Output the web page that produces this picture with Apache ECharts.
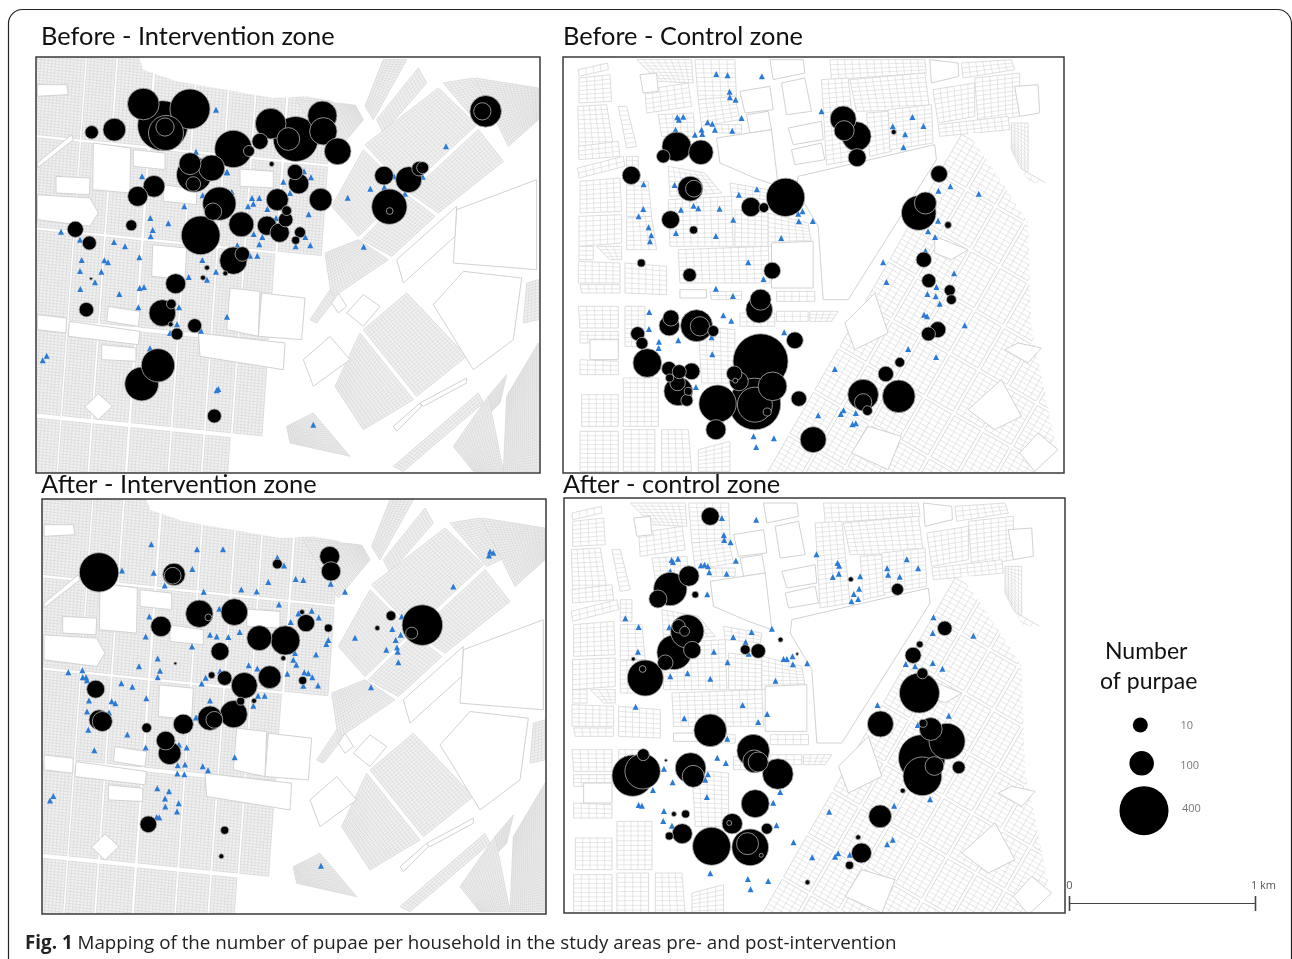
<!DOCTYPE html>
<html><head><meta charset="utf-8">
<style>html,body{margin:0;padding:0;background:#fff;overflow:hidden}#c{width:1292px;height:959px;filter:blur(.45px)}</style>
<script src="https://cdn.jsdelivr.net/npm/echarts@6/dist/echarts.min.js"></script>
</head><body><div id="c"></div>
<script>
// Pupae per household: [map x, map y, pupae]  (map units, y downward)
const beforeInterventionPupae=[[340,163,167],[398,228,417],[480,178,267],[408,250,204],[405,232,21],[253,240,60],[185,248,7],[610,298,232],[657,304,4],[690,275,13],[722,222,157],[797,268,337],[775,268,60],[877,198,143],[880,245,125],[923,305,119],[725,343,1],[480,342,50],[492,375,204],[545,355,113],[490,403,9],[795,367,11],[806,402,35],[372,410,47],[323,440,32],[568,462,185],[549,486,17],[742,450,50],[872,450,60],[770,483,3],[767,510,9],[711,528,27],[749,549,27],[810,548,4],[797,572,2],[634,524,104],[512,557,250],[136,539,13],[178,580,8],[304,527,4],[610,633,125],[637,613,9],[531,654,1],[519,684,1],[586,671,1],[183,687,.6],[437,702,32],[397,790,119],[424,763,3],[422,824,1],[169,780,9],[494,828,8],[441,853,5],[384,947,185],[335,1003,190],[553,1099,8],[1367,185,167],[1357,185,17],[1062,378,24],[1136,390,113],[1167,357,9],[1178,354,5],[1078,471,208],[1079,484,1.5]];
const beforeControlPupae=[[365,291,143],[438,308,90],[325,320,7],[229,377,21],[406,417,104],[417,417,15],[347,510,20],[416,541,2],[259,640,2],[404,676,7],[588,472,27],[627,474,3],[692,443,245],[865,208,113],[905,260,143],[868,243,32],[907,324,20],[1017,247,1],[1153,373,15],[1092,490,200],[1112,460,50],[1180,526,1.5],[1107,630,11],[1122,693,8],[1185,722,4],[1190,750,3],[652,663,15],[617,750,40],[613,780,119],[348,805,13],[343,828,35],[425,828,171],[435,830,27],[475,844,4],[248,852,8],[261,881,5],[277,940,137],[720,872,15],[617,935,504],[410,965,15],[342,957,9],[373,966,8],[344,985,2],[368,1000,11],[370,1025,137],[400,1025,2],[396,1052,5],[538,972,11],[552,995,24],[541,993,1],[653,1010,137],[600,1065,204],[600,1063,445],[637,1087,2],[488,1062,232],[483,1140,32],[732,1047,11],[775,1170,113],[925,1035,157],[925,1058,17],[938,1083,3],[993,973,11],[1035,938,3],[1032,1040,178],[1149,840,13],[1121,853,8]];
const afterInterventionPupae=[[207,308,258],[432,314,55],[428,318,15],[742,283,3],[899,260,32],[903,305,27],[393,470,35],[508,432,125],[535,443,1.5],[613,427,119],[816,427,1],[828,460,17],[895,475,2],[688,505,104],[766,512,143],[570,545,20],[436,581,.6],[760,565,1],[545,616,1.5],[584,625,9],[643,647,113],[719,622,60],[818,632,2],[197,658,20],[632,694,2],[672,693,1],[611,733,125],[540,745,90],[553,750,15],[207,750,32],[217,755,32],[350,774,3],[460,763,32],[407,812,24],[419,850,60],[355,1063,15],[584,1081,2],[574,1159,1],[1177,466,275],[1145,490,5],[1083,438,3],[1042,475,1]];
const afterControlPupae=[[465,140,20],[345,358,185],[401,319,35],[308,388,20],[420,375,1.5],[396,485,185],[370,470,7],[388,485,3],[357,548,200],[411,541,17],[330,579,11],[270,625,216],[262,598,1.5],[234,568,.8],[570,540,3],[609,544,9],[676,510,1],[726,553,.6],[887,329,1],[1027,359,5],[1169,476,9],[1094,524,1.5],[1074,557,13],[1093,670,267],[1102,611,4],[976,763,113],[1176,815,216],[1127,778,60],[1104,761,2],[1100,865,363],[1102,920,250],[1138,889,24],[1211,893,6],[465,782,178],[594,843,178],[597,875,60],[609,877,32],[668,913,157],[406,895,157],[414,920,50],[264,855,5],[232,918,285],[262,905,208],[332,872,.6],[1043,963,1],[600,1002,131],[975,1040,60],[391,1033,2],[356,1033,1],[381,1092,32],[342,1099,2],[469,1130,240],[531,1062,35],[522,1060,1],[585,1133,224],[577,1122,50],[618,1157,.8],[635,1077,4],[919,1150,32],[909,1103,1],[883,1187,2],[757,1238,1]];
// Households with no pupae: [map x, map y]
const beforeInterventionZero=[[558,180],[498,306],[336,380],[592,368],[590,368],[760,396],[822,365],[843,383],[780,430],[666,445],[688,445],[670,462],[654,470],[712,478],[836,494],[738,505],[463,470],[361,505],[415,521],[368,541],[362,560],[93,546],[150,570],[252,577],[285,590],[328,623],[155,631],[223,632],[234,638],[150,664],[214,666],[195,698],[151,718],[329,715],[342,712],[268,733],[325,773],[447,773],[441,824],[420,850],[513,843],[591,801],[517,631],[558,666],[476,682],[531,690],[622,587],[671,553],[697,562],[688,584],[826,562],[841,587],[797,590],[660,618],[682,618],[953,444],[1021,417],[1248,290],[1001,591],[1092,380],[1063,413],[1125,432],[1178,381],[360,896],[50,918],[38,932],[565,1018],[560,1022],[850,1125],[518,437],[605,427]];
const beforeControlZero=[[484,73],[518,77],[621,80],[524,126],[525,143],[542,150],[367,203],[385,201],[372,210],[362,240],[420,255],[440,240],[442,253],[458,218],[472,222],[480,240],[532,243],[560,205],[800,185],[1073,202],[1106,229],[1014,230],[1051,254],[1046,293],[266,404],[359,406],[606,419],[552,435],[1151,423],[1187,410],[1272,432],[265,478],[251,500],[378,480],[416,468],[430,476],[494,477],[535,510],[743,485],[730,492],[732,515],[774,514],[1150,513],[1120,545],[1141,562],[281,533],[289,557],[285,575],[363,550],[483,559],[679,565],[1112,603],[985,638],[580,638],[995,697],[626,688],[483,717],[534,739],[1198,671],[1145,712],[1118,733],[1143,740],[1155,762],[1108,795],[1117,800],[1230,827],[283,787],[282,838],[505,797],[529,813],[688,848],[312,876],[311,895],[370,872],[470,863],[472,914],[1060,898],[1144,922],[840,958],[423,1012],[866,1082],[858,1093],[903,1090],[790,1097],[893,1124],[903,1121],[596,1160],[657,1166],[604,1192]];
const afterInterventionZero=[[364,224],[501,239],[579,239],[742,263],[762,287],[276,302],[371,309],[487,298],[404,347],[715,337],[797,328],[820,331],[902,342],[945,366],[521,366],[634,359],[680,365],[747,404],[568,417],[805,431],[845,423],[866,443],[782,457],[358,440],[347,500],[540,495],[560,500],[595,502],[629,487],[486,530],[895,511],[889,523],[975,504],[1270,350],[1380,245],[1390,249],[1377,257],[1115,440],[1087,478],[1112,495],[1097,511],[1069,540],[1101,533],[1103,546],[1105,577],[795,550],[858,554],[790,570],[799,585],[383,566],[327,589],[390,603],[383,622],[115,607],[157,601],[158,622],[168,622],[171,631],[274,640],[307,651],[515,641],[527,624],[570,604],[656,586],[682,596],[772,612],[823,607],[835,610],[847,622],[820,648],[864,647],[1023,652],[349,685],[540,692],[245,694],[256,700],[177,692],[684,678],[704,678],[670,708],[171,725],[237,728],[498,743],[175,780],[292,794],[347,833],[193,841],[447,825],[470,833],[614,862],[443,886],[465,884],[518,889],[534,901],[442,911],[463,913],[382,955],[417,964],[405,986],[446,1000],[406,1010],[441,1025],[380,1041],[388,1043],[70,978],[60,992],[873,1187]];
const afterControlZero=[[500,145],[603,150],[506,196],[507,211],[526,218],[349,271],[368,267],[353,277],[345,305],[437,287],[448,285],[458,290],[462,308],[514,312],[542,273],[784,254],[847,280],[852,288],[1055,269],[1089,296],[996,296],[999,315],[1034,321],[851,312],[833,322],[915,320],[912,357],[896,373],[909,388],[889,395],[456,374],[210,446],[250,472],[1135,443],[1133,490],[1255,498],[342,473],[534,502],[589,487],[650,477],[571,517],[248,546],[476,546],[580,552],[712,560],[685,568],[695,568],[713,584],[756,581],[517,578],[397,611],[345,620],[465,627],[661,633],[1052,583],[1080,590],[1133,580],[1162,597],[241,711],[562,706],[636,733],[387,746],[609,757],[967,706],[1181,738],[1088,766],[516,807],[486,864],[512,880],[326,897],[458,914],[450,930],[352,938],[293,961],[675,967],[455,982],[1125,989],[654,999],[250,1006],[260,1008],[1017,1008],[326,1024],[324,1054],[350,1068],[664,1067],[822,1026],[715,1118],[1013,1110],[996,1124],[771,1163],[849,1151],[840,1161],[884,1155],[465,1211],[578,1228],[639,1234],[586,1259]];
// Base map, west: street grid bands (map units) plus hand-read diagonal blocks and open lots
const westColumns=[[-40,125],[132,218],[226,330],[340,458],[466,558],[566,640],[648,735],[745,875]];
const westRows=[[-100,295],[305,570],[580,838],[852,1125],[1140,1330]];
const westOmit=[[7,2],[7,3],[7,4],[6,4]];
const westDiagonal=[[1060,30,1130,30,1030,210,1005,170],[1040,210,1165,55,1190,100,1060,250],[1005,285,1225,115,1340,225,1130,420],[1240,100,1330,85,1425,195,1350,230],[1335,85,1525,115,1525,210,1435,290],[1140,430,1345,240,1420,335,1225,490],[905,470,1000,300,1125,425,985,560],[995,570,1130,435,1215,500,1085,620],[885,610,985,570,1075,630,905,745],[840,810,900,720,915,750,860,820],[1000,840,1130,730,1310,920,1160,1040],[915,1010,990,850,1150,1050,1000,1140],[1490,700,1525,690,1525,810,1480,820],[1375,1040,1430,975,1410,1060,1380,1090],[1430,1040,1525,880,1525,1265,1420,1265],[1090,1250,1345,1030,1360,1060,1120,1265],[1270,1190,1375,1040,1420,1265,1330,1265],[770,1130,850,1090,960,1220,780,1180],[800,150,975,165,1000,210,905,325]];
const westLots=[[325,15,1062,15,1000,170,830,140,730,145,440,95,340,60],[22,105,110,105,115,135,22,140],[22,340,125,255,130,270,22,355],[22,435,180,445,205,490,180,530,22,510],[205,1032,247,1070,205,1110,165,1072],[190,280,302,295,300,430,188,420],[310,300,405,310,405,360,310,350],[78,380,180,385,178,435,78,430],[630,358,730,365,730,415,630,410],[400,405,500,420,500,465,400,455],[368,585,470,595,465,690,365,680],[600,715,690,725,685,860,590,840],[695,730,825,745,815,870,685,860],[235,770,330,785,325,830,230,815],[215,885,318,895,318,935,215,930],[505,850,765,880,760,960,510,920],[118,815,330,845,325,885,115,860],[22,795,110,805,108,850,22,840],[1280,480,1520,390,1520,660,1270,640],[1210,765,1300,665,1475,685,1450,870,1330,960],[950,790,1000,735,1050,770,1000,830],[1100,630,1280,470,1275,560,1120,700],[1090,1130,1170,1060,1175,1070,1100,1145],[1170,1060,1310,985,1310,1000,1180,1070],[820,930,900,860,960,930,850,1010],[905,760,925,730,950,770,925,790]];
// Base map, east: hand-read western blocks, diagonal street bands, outer mask and open lots
const eastBlocks=[[70,60,158,40,160,60,72,80],[72,85,165,75,170,155,72,160],[68,170,155,165,175,290,72,290],[190,170,215,170,245,290,215,295],[70,290,190,275,195,320,72,330],[68,355,205,320,210,350,72,385],[75,395,195,385,200,485,75,490],[72,500,200,495,200,580,72,590],[72,590,115,590,115,630,72,630],[125,590,200,590,200,630,165,630],[70,635,195,640,195,700,70,700],[75,705,195,705,195,730,80,730],[215,320,250,320,250,385,215,385],[215,395,280,395,290,500,215,500],[215,505,290,500,305,600,215,600],[210,640,335,650,335,735,210,730],[245,30,410,30,415,100,310,95],[270,120,400,100,410,170,275,190],[310,195,415,190,420,260,320,260],[420,30,540,30,545,150,430,150],[430,150,540,140,555,210,440,230],[480,225,560,225,560,250,485,250],[340,450,530,440,535,590,345,590],[540,480,640,490,640,590,540,590],[640,490,760,520,770,580,640,590],[370,600,640,590,645,700,375,700],[465,725,560,725,560,750,470,750],[665,725,780,725,780,755,665,755],[525,400,640,420,635,450,530,440],[340,350,450,370,500,430,345,440],[825,30,1110,30,1115,70,830,90],[800,90,880,85,905,330,815,345],[885,90,1110,70,1125,180,905,185],[935,190,1000,185,1010,305,945,320],[1000,180,1130,165,1135,280,1005,300],[1135,120,1260,100,1260,200,1150,220],[1260,85,1395,70,1395,200,1270,220],[1150,225,1360,200,1365,240,1155,260],[1220,40,1370,30,1380,60,1225,85],[1370,220,1420,220,1420,400,1370,300],[70,770,190,770,190,835,75,835],[75,845,190,845,190,880,75,880],[210,770,270,770,270,890,210,890],[75,930,190,935,190,975,75,975],[205,985,310,985,310,1130,205,1130],[80,1035,190,1035,190,1130,80,1130],[75,1145,190,1145,190,1265,75,1265],[205,1140,300,1140,300,1265,205,1265],[320,1140,400,1140,410,1265,320,1265],[430,830,540,840,540,1000,440,1000],[555,790,660,790,660,830,555,830],[665,785,760,785,760,815,665,815],[765,785,850,785,830,815,765,815],[430,1200,525,1175,525,1265,430,1265]];
const eastDiagonalOrigin=[620,1275];
const eastAcross=[[12,102],[112,202],[212,302],[312,402],[412,502],[512,602],[612,702]];
const eastAlong=[[0,140],[150,290],[300,440],[450,590],[600,740],[750,890],[900,1040],[1050,1180]];
const eastLots=[[1240,250,1365,250,1365,305,1425,400,1620,400,1620,1210,1505,1195,1430,830,1420,520,1330,380],[730,380,1140,285,1145,330,880,750,805,750,790,530,725,420],[255,75,305,70,310,125,265,130],[555,125,645,110,655,180,570,190],[575,195,640,185,650,240,585,250],[485,265,650,240,670,410,600,385,495,340],[645,30,745,30,750,70,655,90],[680,100,750,85,770,185,695,195],[700,235,800,215,805,270,715,285],[710,300,800,280,810,330,720,345],[1125,30,1210,40,1212,80,1130,100],[1380,110,1450,105,1455,190,1395,200],[650,580,775,575,775,715,650,715],[870,820,960,730,1000,850,900,900],[940,1130,1040,1160,1000,1260,890,1210],[1240,1080,1340,990,1400,1100,1320,1140],[1395,1210,1450,1150,1510,1200,1440,1265],[105,870,190,870,190,930,105,930],[375,720,455,720,455,745,375,745],[1140,560,1240,600,1190,630,1140,610],[1390,880,1460,895,1420,940,1350,900]];
// Legend and scale bar
const legendValues=[10,100,400];
const legendPoints=[[241,315],[245,430],[252,572]];
const legendLabelPoints=[[380,318],[389,437],[394,566]];
const scaleValues=[[0,0],[1,0]];
const scaleLabels=['0','1 km'];
const titles=['Before - Intervention zone','Before - Control zone','After - Intervention zone','After - control zone'];

// Legend keys: 10 -> 15 px, 100 -> 25 px, 400 -> 49 px
function bubble(v){return v>=100?2.45*Math.sqrt(v):15+10*Math.log10(v/10);}

// expand the street bands into parcel blocks
const westBlocks=[];
westRows.forEach((r,j)=>westColumns.forEach((c,i)=>{
 if(westOmit.some(o=>o[0]===i&&o[1]===j))return;
 const pt=(u,v)=>{const y=v+0.1*(u-400);return [u-0.07*(y-600),y];};
 westBlocks.push([...pt(c[0],r[0]),...pt(c[1],r[0]),...pt(c[1],r[1]),...pt(c[0],r[1])]);
}));
westBlocks.push(...westDiagonal);
const eastAll=eastBlocks.slice();
eastAcross.forEach(s=>eastAlong.forEach(t=>{
 const pt=(a,b)=>[eastDiagonalOrigin[0]+0.5*b+0.87*a,eastDiagonalOrigin[1]-0.87*b+0.5*a];
 eastAll.push([...pt(s[0],t[0]),...pt(s[1],t[0]),...pt(s[1],t[1]),...pt(s[0],t[1])]);
}));

const panels=[
 {title:0,g:[36,57,504,416],x:[18,1530],y:[22,1270],p:beforeInterventionPupae,z:beforeInterventionZero,b:westBlocks,l:westLots,d:[0,0],kind:'w'},
 {title:1,g:[563,57,501,416],x:[24,1528],y:[22,1270],p:beforeControlPupae,z:beforeControlZero,b:eastAll,l:eastLots,d:[0,0],kind:'e'},
 {title:2,g:[42,499,504,415],x:[36,1548],y:[88,1332],p:afterInterventionPupae,z:afterInterventionZero,b:westBlocks,l:westLots,d:[20,60],kind:'w'},
 {title:3,g:[564,498,501,415],x:[26,1530],y:[85,1330],p:afterControlPupae,z:afterControlZero,b:eastAll,l:eastLots,d:[-20,70],kind:'e'}
];
const titlePos=[[41,22],[563,22],[41,470],[563,470]];
const FONT='Lato';
function lerp(a,b,t){return [a[0]+(b[0]-a[0])*t,a[1]+(b[1]-a[1])*t];}
function mapSeries(P,i,list,isLot){
 const cu=P.kind==='w'?11:22, cv=P.kind==='w'?9:14;
 const col=P.kind==='w'?'#d2d2d2':'#cfcfcf';
 return {type:'custom',xAxisIndex:i,yAxisIndex:i,clip:true,silent:true,z:1,
  data:list.map(b=>[b[0],b[1]]),encode:{x:0,y:1},
  renderItem(params,api){
   const b=list[params.dataIndex],c=[];
   for(let k=0;k<b.length;k+=2)c.push(api.coord([b[k]+P.d[0],b[k+1]+P.d[1]]));
   const masked=isLot&&params.dataIndex===0;
   const children=[{type:'polygon',shape:{points:c},style:{fill:isLot?'#fff':(P.kind==='w'?'#f0f0f0':'#fff'),stroke:masked?null:(isLot?'#d2d2d2':col),lineWidth:isLot?1:.7}}];
   if(!isLot){
    const L=(p,q)=>Math.hypot(b[p*2]-b[q*2],b[p*2+1]-b[q*2+1]);
    const nu=Math.max(1,Math.round(Math.max(L(0,1),L(3,2))/cu)),nv=Math.max(1,Math.round(Math.max(L(0,3),L(1,2))/cv));
    const seg=(a,e)=>({type:'line',shape:{x1:a[0],y1:a[1],x2:e[0],y2:e[1]},style:{stroke:col,lineWidth:.5}});
    for(let k=1;k<nu;k++)children.push(seg(lerp(c[0],c[1],k/nu),lerp(c[3],c[2],k/nu)));
    for(let k=1;k<nv;k++)children.push(seg(lerp(c[0],c[3],k/nv),lerp(c[1],c[2],k/nv)));
   }
   return {type:'group',children};
  }};
}
function frameSeries(P,i){
 return {type:'custom',xAxisIndex:i,yAxisIndex:i,clip:false,silent:true,z:6,
  data:[[P.x[0],P.y[0],P.x[1],P.y[1]]],encode:{x:[0,2],y:[1,3]},
  renderItem(params,api){
   const a=api.coord([api.value(0),api.value(1)]),b=api.coord([api.value(2),api.value(3)]);
   return {type:'rect',shape:{x:a[0],y:a[1],width:b[0]-a[0],height:b[1]-a[1]},style:{fill:null,stroke:'#3a3a3a',lineWidth:1.5}};
  }};
}
const grid=[],xAxis=[],yAxis=[],series=[],title=[];
panels.forEach((P,i)=>{
 grid.push({left:P.g[0],top:P.g[1],width:P.g[2],height:P.g[3],show:false});
 xAxis.push({gridIndex:i,type:'value',min:P.x[0],max:P.x[1],show:false});
 yAxis.push({gridIndex:i,type:'value',min:P.y[0],max:P.y[1],inverse:true,show:false});
 series.push(mapSeries(P,i,P.b,false),mapSeries(P,i,P.l,true));
 series.push({type:'scatter',name:'none',xAxisIndex:i,yAxisIndex:i,data:P.z,symbol:'triangle',symbolSize:6,z:3,silent:true,itemStyle:{color:'#2a7ad6',opacity:1}});
 series.push({type:'scatter',name:'pupae',xAxisIndex:i,yAxisIndex:i,data:P.p.slice().sort((a,b)=>b[2]-a[2]),symbol:'circle',symbolSize:v=>bubble(v[2]),z:4,silent:true,itemStyle:{color:'#000',opacity:1,borderColor:'#b0b0b0',borderWidth:.8}});
 series.push(frameSeries(P,i));
 title.push({text:titles[P.title],left:titlePos[i][0],top:titlePos[i][1],padding:0,textStyle:{fontFamily:FONT,fontSize:25.4,fontWeight:'normal',color:'#111',lineHeight:30}});
});
grid.push({left:1060,top:620,width:232,height:339,show:false});
xAxis.push({gridIndex:4,type:'value',min:0,max:696,show:false});
yAxis.push({gridIndex:4,type:'value',min:0,max:1017,inverse:true,show:false});
series.push({type:'scatter',xAxisIndex:4,yAxisIndex:4,silent:true,z:4,symbol:'circle',symbolSize:(v,p)=>bubble(legendValues[p.dataIndex]),data:legendPoints,itemStyle:{color:'#000',opacity:1}});
series.push({type:'scatter',xAxisIndex:4,yAxisIndex:4,silent:true,z:4,symbolSize:0,data:legendLabelPoints,label:{show:true,position:'inside',formatter:p=>String(legendValues[p.dataIndex]),fontFamily:'Open Sans',fontSize:11,color:'#555'}});
grid.push({left:1069.5,top:903,width:186,height:1,show:false});
xAxis.push({gridIndex:5,type:'value',min:0,max:1,show:false});
yAxis.push({gridIndex:5,type:'value',min:-1,max:1,show:false});
series.push({type:'line',xAxisIndex:5,yAxisIndex:5,silent:true,z:4,data:scaleValues,symbol:'rect',symbolSize:[1.6,15],lineStyle:{color:'#444',width:1.2},itemStyle:{color:'#444',opacity:1},
 label:{show:true,position:'top',distance:5,formatter:p=>scaleLabels[p.dataIndex],fontFamily:'Open Sans',fontSize:11,color:'#555'},labelLayout:p=>p.dataIndex===1?{dx:8}:{}});
title.push({text:'Number',left:1105,top:640,padding:0,textStyle:{fontFamily:FONT,fontSize:23,fontWeight:'normal',color:'#111'}});
title.push({text:'of purpae',left:1100,top:670,padding:0,textStyle:{fontFamily:FONT,fontSize:23,fontWeight:'normal',color:'#111'}});
title.push({text:'{b|Fig. 1} Mapping of the number of pupae per household in the study areas pre- and post-intervention',left:25,top:934,padding:0,
 textStyle:{rich:{b:{fontFamily:'Open Sans',fontSize:18.8,fontWeight:'bold',color:'#222'}},fontFamily:'Open Sans',fontSize:18.8,fontWeight:'normal',color:'#222'}});

const chart=echarts.init(document.getElementById('c'),null,{renderer:'canvas'});
chart.setOption({animation:false,backgroundColor:'#fff',title,grid,xAxis,yAxis,series,
 graphic:[{type:'rect',silent:true,shape:{x:8.5,y:9.5,width:1283,height:980,r:14},style:{fill:'none',stroke:'#222',lineWidth:1.2},z:0}]});
</script></body></html>
